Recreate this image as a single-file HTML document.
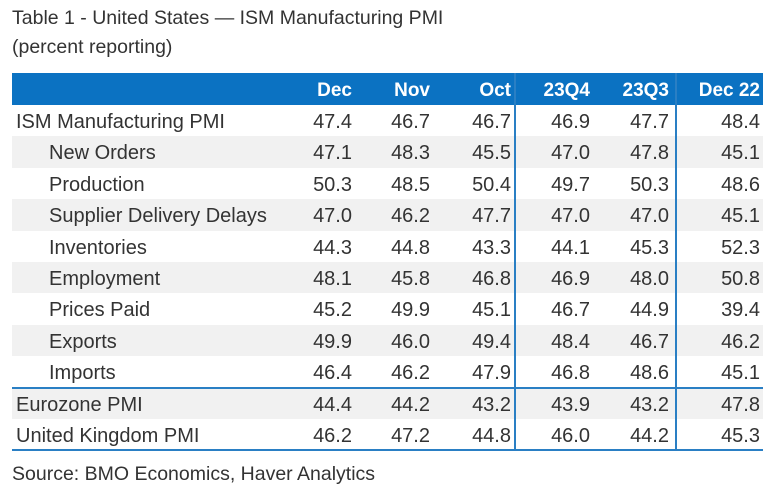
<!DOCTYPE html>
<html><head><meta charset="utf-8"><style>
body{margin:0;width:769px;height:485px;background:#fff;position:relative;overflow:hidden;font-family:"Liberation Sans",sans-serif}
.t{position:absolute;left:12px;font-size:19.5px;color:#333;line-height:22px}
#tbl{position:absolute;left:0;top:0;width:769px;height:485px}
.c{position:absolute;font-family:"Liberation Sans Narrow","Liberation Sans",sans-serif;font-size:20px;color:#333;white-space:nowrap;line-height:31px}
.h{color:#fff;font-weight:bold;font-size:19px}
</style></head><body>
<div class="t" style="top:7px">Table 1 - United States — ISM Manufacturing PMI</div>
<div class="t" style="top:36px">(percent reporting)</div>
<div id="tbl"></div>
<div class="t" style="top:463px">Source: BMO Economics, Haver Analytics</div>
<script>
const columns=["Dec","Nov","Oct","23Q4","23Q3","Dec 22"];
const rowLabels=["ISM Manufacturing PMI","New Orders","Production","Supplier Delivery Delays","Inventories","Employment","Prices Paid","Exports","Imports","Eurozone PMI","United Kingdom PMI"];
const indent=[0,1,1,1,1,1,1,1,1,0,0];
const values=[
["47.4","46.7","46.7","46.9","47.7","48.4"],
["47.1","48.3","45.5","47.0","47.8","45.1"],
["50.3","48.5","50.4","49.7","50.3","48.6"],
["47.0","46.2","47.7","47.0","47.0","45.1"],
["44.3","44.8","43.3","44.1","45.3","52.3"],
["48.1","45.8","46.8","46.9","48.0","50.8"],
["45.2","49.9","45.1","46.7","44.9","39.4"],
["49.9","46.0","49.4","48.4","46.7","46.2"],
["46.4","46.2","47.9","46.8","48.6","45.1"],
["44.4","44.2","43.2","43.9","43.2","47.8"],
["46.2","47.2","44.8","46.0","44.2","45.3"]];
const T=document.getElementById('tbl');
const colRight=[352,430,511,590,669,760];
const top0=105,rh=31.4,L=12,R=763;
function box(css){const d=document.createElement('div');d.style.cssText='position:absolute;'+css;T.appendChild(d);return d;}
const hd=box(`left:${L}px;top:73px;width:${R-L}px;height:32px;background:#0b72c2`);


rowLabels.forEach((lab,i)=>{
  const y=top0+i*rh;
  if(i%2===1||i===9){const s=box(`left:${L}px;top:${y}px;width:${R-L}px;height:${rh}px;background:#f1f1f1`);
    
    }
});
rowLabels.forEach((lab,i)=>{
  const y=top0+i*rh+2;
  const d=box(`left:${16+indent[i]*33}px;top:${y}px`);d.className='c';d.textContent=lab;
  
  
  values[i].forEach((v,j)=>{
    const e=box(`right:${769-colRight[j]}px;top:${y}px`);e.className='c';e.textContent=v;
    
    
  });
});
columns.forEach((c,j)=>{
  const e=box(`right:${769-colRight[j]}px;top:74px;line-height:33px`);e.className='c h';e.textContent=c;
  
  
});
[514,675].forEach(x=>{const v=box(`left:${x}px;top:73px;width:2px;height:377px;background:#2a7fc4`);
  
  });
[top0+9*rh-1,top0+11*rh-1].forEach(y=>{const l=box(`left:${L}px;top:${y}px;width:${R-L}px;height:2px;background:#2a7fc4`);
  
  });
</script>
</body></html>
